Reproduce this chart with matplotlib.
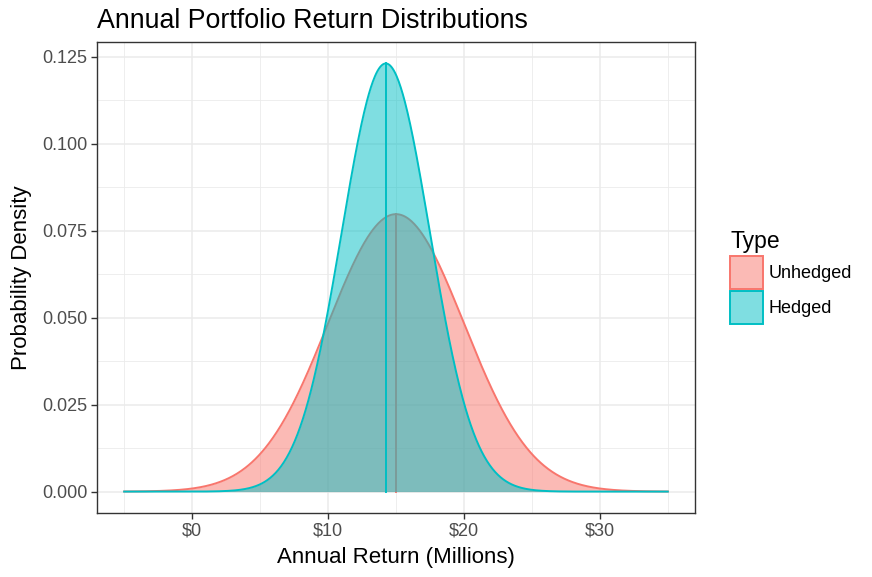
import matplotlib.pyplot as plt
from matplotlib.colors import to_rgb
from matplotlib.patches import Patch
from matplotlib.ticker import MultipleLocator, FuncFormatter
import numpy as np

plt.rcParams['font.family'] = ['Liberation Sans', 'DejaVu Sans']

# distribution parameters (millions)
types = ['Unhedged', 'Hedged']
means = [15.0, 14.25]
sds = [5.0, 3.24]
colors = ['#F8766D', '#00BFC4']
x_range = [-5, 35]

x = np.linspace(x_range[0], x_range[1], 801)

fig = plt.figure(figsize=(8.72, 5.77), dpi=100)
ax = fig.add_axes([97 / 872, 64 / 577, 598 / 872, 471 / 577])

# draw group by group so the later fill covers the earlier outline (like ggplot)
z = 2
for name, mu, sd, col in zip(types, means, sds, colors):
    dens = np.exp(-0.5 * ((x - mu) / sd) ** 2) / (sd * np.sqrt(2 * np.pi))
    ax.fill_between(x, 0, dens, color=col, alpha=0.5, linewidth=0, zorder=z)
    ax.plot(x, dens, color=col, lw=1.4, zorder=z + 1)
    peak = 1 / (sd * np.sqrt(2 * np.pi))
    ax.plot([mu, mu], [0, peak], color=col, lw=1.4, zorder=z + 1)
    z += 2

ax.set_xlim(-7, 37)
ax.set_ylim(-0.00616, 0.1293)

ax.xaxis.set_major_locator(MultipleLocator(10))
ax.xaxis.set_minor_locator(MultipleLocator(5))
ax.yaxis.set_major_locator(MultipleLocator(0.025))
ax.yaxis.set_minor_locator(MultipleLocator(0.0125))
ax.xaxis.set_major_formatter(FuncFormatter(lambda v, p: '${:.0f}'.format(v)))
ax.yaxis.set_major_formatter(FuncFormatter(lambda v, p: '{:.3f}'.format(v)))

ax.grid(which='major', color='#EBEBEB', lw=1.1, zorder=0)
ax.grid(which='minor', color='#EBEBEB', lw=0.6, zorder=0)
ax.set_axisbelow(True)
ax.tick_params(which='minor', length=0)
ax.tick_params(which='major', length=4, width=1, color='#333333',
               labelcolor='#4D4D4D', labelsize=13, pad=3)
for s in ax.spines.values():
    s.set_color('#333333')
    s.set_linewidth(1)
    s.set_zorder(10)

ax.set_xlabel('Annual Return (Millions)', fontsize=16, labelpad=5)
ax.set_ylabel('Probability Density', fontsize=16, labelpad=7)
fig.text(97 / 872, 1 - 28 / 577, 'Annual Portfolio Return Distributions',
         fontsize=19.3, ha='left', va='baseline')

handles = [Patch(facecolor=(*to_rgb(c), 0.5), edgecolor=c, lw=1.4)
           for c in colors]
leg = fig.legend(handles, types, title='Type', loc='upper left',
                 bbox_to_anchor=(730 / 872, 1 - 230 / 577), frameon=False,
                 fontsize=13, title_fontsize=16.5, handlelength=1.85,
                 handleheight=2.44, labelspacing=0.1, handletextpad=0.3,
                 borderaxespad=0, borderpad=0)
leg._legend_box.align = 'left'
leg._legend_box.sep = 2

fig.savefig('out.png', dpi=100)
